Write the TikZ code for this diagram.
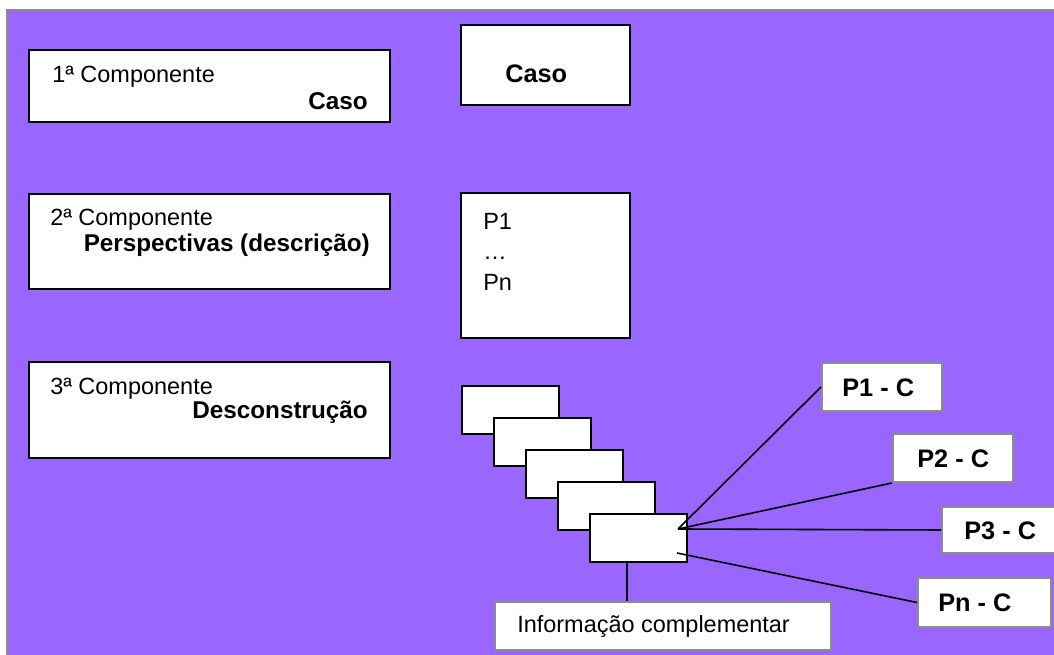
\documentclass[tikz,border=0pt]{standalone}
\usepackage{fontspec}
\setmainfont{Liberation Sans}
\definecolor{fundo}{HTML}{9966FF}
\definecolor{cinza}{HTML}{8C8C8C}

\begin{document}
\begin{tikzpicture}[x=0.75pt,y=-0.75pt,
  compbox/.style={draw=black,line width=1.5pt,fill=white,inner sep=0pt},
  tagbox/.style={draw=cinza,line width=1.5pt,fill=white,inner sep=0pt},
  boxsize/.style 2 args={minimum width=0.75*#1pt,minimum height=0.75*#2pt},
  txt/.style={inner sep=0pt,font=\fontsize{17.6}{21}\selectfont},
  btxt/.style={inner sep=0pt,font=\fontsize{18.2}{21}\selectfont\bfseries},
  tagtxt/.style={inner sep=0pt,font=\fontsize{19}{22}\selectfont\bfseries}]
\useasboundingbox (0,0) rectangle (1054,655);
\clip (0,0) rectangle (1054,655);
\fill[fundo] (7,10) rectangle (1070,670);
\draw[cinza,line width=1.5pt] (7,670) -- (7,10) -- (1070,10);

\node[compbox,boxsize={361}{72}] (comp1) at (209.5,86) {};
\node[compbox,boxsize={361}{95}] (comp2) at (209.5,241.5) {};
\node[compbox,boxsize={361}{96}] (comp3) at (209.5,410) {};
\node[compbox,boxsize={169}{80}] (caso) at (545.5,65) {};
\node[compbox,boxsize={169}{145}] (persp) at (545.5,265.5) {};

\node[txt,anchor=base west] (comp1a) at (52,83) {1ª Componente};
\node[btxt,anchor=base east] (comp1b) at (368,110) {Caso};
\node[txt,anchor=base west] (comp2a) at (50,226) {2ª Componente};
\node[btxt,anchor=base east] (comp2b) at (370,252) {Perspectivas (descrição)};
\node[txt,anchor=base west] (comp3a) at (50,395) {3ª Componente};
\node[btxt,anchor=base east] (comp3b) at (368,419) {Desconstrução};
\node[tagtxt,anchor=base west] (casotxt) at (505,83) {Caso};
\node[txt,anchor=base west] (pone) at (483,230) {P1};
\node[txt,anchor=base west] (pdots) at (483,260) {…};
\node[txt,anchor=base west] (pn) at (483,291) {Pn};

\foreach \i in {0,...,4}
	\node[compbox,boxsize={97}{48}] (s\i) at ({510.5+32*\i},{410+32*\i}) {};

\node[tagbox,boxsize={120}{48}] (p1c) at (882,387) {};
\node[tagbox,boxsize={120}{48}] (p2c) at (953,458) {};
\node[tagbox,boxsize={120}{46}] (p3c) at (1002,530) {};
\node[tagbox,boxsize={133}{49}] (pnc) at (984.5,602.5) {};
\node[tagbox,boxsize={336}{48}] (info) at (663,626) {};

\node[tagtxt,anchor=base west] at (842,397) {P1 - C};
\node[tagtxt,anchor=base west] at (917,468) {P2 - C};
\node[tagtxt,anchor=base west] at (964,540) {P3 - C};
\node[tagtxt,anchor=base west] at (938,612) {Pn - C};
\node[txt,anchor=base west] at (517,633) {Informação complementar};

\coordinate (hub) at (678,529);
\coordinate (hubn) at (677,553);
\coordinate (infoup) at (627,562);

\foreach \from/\to in {hub/p1c.west, hub/p2c.south west, hub/p3c.west, hubn/pnc.west, infoup/infoup |- info.north}
	\draw[line width=1.2pt] (\from) -- (\to);

\end{tikzpicture}
\end{document}
